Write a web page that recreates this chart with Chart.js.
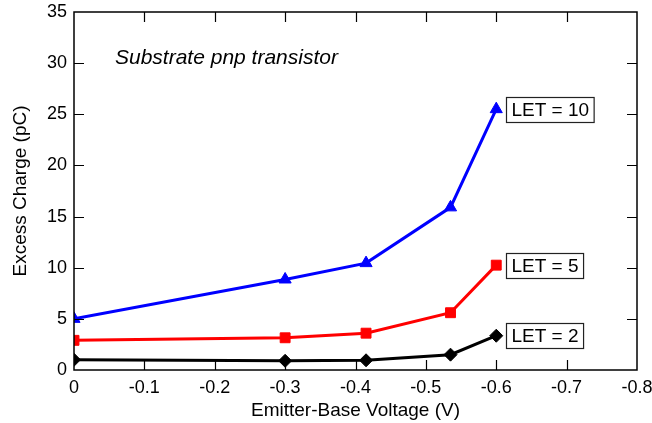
<!DOCTYPE html>
<html>
<head>
<meta charset="utf-8">
<script src="https://cdn.jsdelivr.net/npm/chart.js@4.4.1/dist/chart.umd.min.js"></script>
<style>
  html, body { margin: 0; padding: 0; background: #fff; }
  #wrap { width: 652px; height: 423px; }
</style>
</head>
<body>
<div id="wrap"><canvas id="c" width="652" height="423"></canvas></div>
<script>
// Emitter-base bias points (V)
const voltages = [0, -0.3, -0.415, -0.535, -0.6];
// Collected excess charge (pC) for each LET
const let10 = [5.0, 8.85, 10.45, 15.9, 25.5];
const let5 = [2.9, 3.15, 3.6, 5.6, 10.25];
const let2 = [1.0, 0.9, 0.95, 1.5, 3.35];
const seriesLabels = ['LET = 10', 'LET = 5', 'LET = 2'];
const chartNote = 'Substrate pnp transistor';

const FONT = "'Liberation Sans', Arial, Helvetica, sans-serif";

function pts(ys) { return voltages.map((v, i) => ({ x: v, y: ys[i] })); }

// Closed frame with inward tick marks on all four sides
const framePlugin = {
  id: 'frame',
  afterDraw(chart) {
    const { ctx, chartArea: a, scales } = chart;
    const tl = 10;
    ctx.save();
    ctx.strokeStyle = '#000';
    ctx.lineWidth = 1.5;
    ctx.strokeRect(a.left, a.top, a.right - a.left, a.bottom - a.top);
    ctx.lineWidth = 1.2;
    ctx.beginPath();
    scales.x.ticks.forEach(t => {
      const px = Math.round(scales.x.getPixelForValue(t.value)) + 0.5;
      if (px <= a.left + 1 || px >= a.right - 1) return;
      ctx.moveTo(px, a.bottom); ctx.lineTo(px, a.bottom - tl);
      ctx.moveTo(px, a.top); ctx.lineTo(px, a.top + tl);
    });
    scales.y.ticks.forEach(t => {
      const py = Math.round(scales.y.getPixelForValue(t.value)) + 0.5;
      if (py <= a.top + 1 || py >= a.bottom - 1) return;
      ctx.moveTo(a.left, py); ctx.lineTo(a.left + tl, py);
      ctx.moveTo(a.right, py); ctx.lineTo(a.right - tl, py);
    });
    ctx.stroke();
    ctx.restore();
  }
};

// Boxed series names beside the last point of each curve, plus the italic note
const labelPlugin = {
  id: 'seriesBoxes',
  afterDatasetsDraw(chart) {
    const { ctx, chartArea: a, scales } = chart;
    ctx.save();
    ctx.font = '19px ' + FONT;
    ctx.textBaseline = 'middle';
    chart.data.datasets.forEach(ds => {
      const last = ds.data[ds.data.length - 1];
      const px = scales.x.getPixelForValue(last.x);
      const py = scales.y.getPixelForValue(last.y);
      const w = ctx.measureText(ds.label).width + 10;
      const h = 25;
      const bx = Math.round(px + 10) + 0.5;
      const by = Math.round(py - h / 2) + 0.5;
      ctx.fillStyle = '#fff';
      ctx.fillRect(bx, by, w, h);
      ctx.strokeStyle = '#222';
      ctx.lineWidth = 1.2;
      ctx.strokeRect(bx, by, w, h);
      ctx.fillStyle = '#000';
      ctx.textAlign = 'left';
      ctx.fillText(ds.label, bx + 5, by + h / 2 + 1);
    });
    ctx.font = 'italic 21px ' + FONT;
    ctx.textAlign = 'left';
    ctx.fillStyle = '#000';
    ctx.fillText(chartNote, a.left + 41, a.top + 46);
    ctx.restore();
  }
};

function ds(label, ys, color, style, r) {
  return {
    label, data: pts(ys),
    borderColor: color, backgroundColor: color,
    borderWidth: 3,
    pointStyle: style, pointRadius: r, pointHoverRadius: r,
    pointBorderWidth: 1, pointBorderColor: color, pointBackgroundColor: color,
    tension: 0, fill: false
  };
}

new Chart(document.getElementById('c'), {
  type: 'line',
  data: {
    datasets: [
      ds(seriesLabels[0], let10, '#0000ff', 'triangle', 7),
      ds(seriesLabels[1], let5, '#ff0000', 'rect', 7),
      ds(seriesLabels[2], let2, '#000000', 'rectRot', 6.5)
    ]
  },
  options: {
    responsive: false,
    animation: false,
    devicePixelRatio: 1,
    layout: { padding: { top: 12, right: 15, left: 0, bottom: 0 } },
    plugins: { legend: { display: false }, tooltip: { enabled: false } },
    scales: {
      x: {
        type: 'linear', min: -0.8, max: 0, reverse: true,
        afterFit(s) { s.height = 53; s.paddingLeft = 0; s.paddingRight = 0; },
        grid: { display: false, drawTicks: false },
        border: { display: false },
        ticks: {
          stepSize: 0.1, padding: 7, color: '#000',
          font: { family: FONT, size: 18 },
          maxRotation: 0,
          callback: v => { const n = Number(v.toFixed(1)); return n === 0 ? '0' : String(n); }
        },
        title: {
          display: true, text: 'Emitter-Base Voltage (V)', color: '#000',
          font: { family: FONT, size: 19 }, padding: { top: 0, bottom: 1 }
        }
      },
      y: {
        type: 'linear', min: 0, max: 35,
        afterFit(s) { s.width = 74; s.paddingTop = 0; s.paddingBottom = 0; },
        grid: { display: false, drawTicks: false },
        border: { display: false },
        ticks: {
          stepSize: 5, padding: 7, color: '#000',
          font: { family: FONT, size: 18 }
        },
        title: {
          display: true, text: 'Excess Charge (pC)', color: '#000',
          font: { family: FONT, size: 19 }, padding: { top: 9, bottom: 0 }
        }
      }
    }
  },
  plugins: [framePlugin, labelPlugin]
});
</script>
</body>
</html>
